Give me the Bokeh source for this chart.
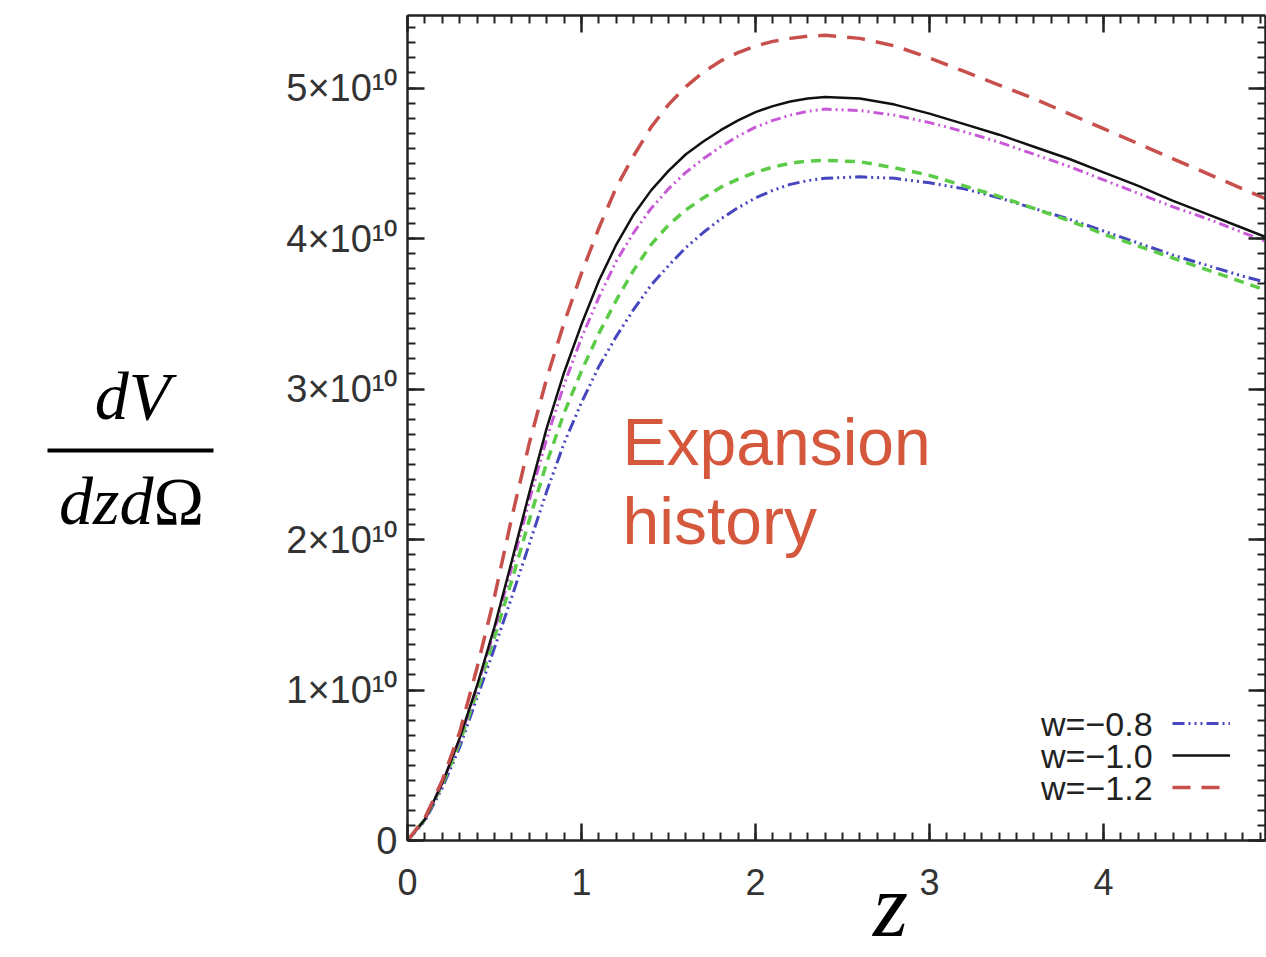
from bokeh.plotting import figure
from bokeh.models import (Range1d, LinearAxis, SingleIntervalTicker, CustomJSTickFormatter,
                          Label, Legend, LegendItem, BoxAnnotation)
from bokeh.layouts import row
from bokeh.embed import file_html
from bokeh.resources import INLINE

# ---------------- data (dV/dz dOmega in units of 1e10) ----------------
z = [0, 0.1, 0.2, 0.3, 0.4, 0.5, 0.6, 0.7, 0.8, 0.9, 1.0, 1.1, 1.2, 1.3, 1.4, 1.5, 1.6, 1.7,
     1.8, 1.9, 2.0, 2.1, 2.2, 2.3, 2.4, 2.6, 2.8, 3.0, 3.2, 3.4, 3.6, 3.8, 4.0, 4.2, 4.4, 4.6, 4.8, 5.0]

w_m12 = [0, 0.15, 0.40, 0.72, 1.15, 1.62, 2.15, 2.64, 3.07, 3.44, 3.77, 4.07, 4.34, 4.55, 4.74, 4.89, 5.01, 5.105,
         5.18, 5.235, 5.28, 5.31, 5.33, 5.345, 5.35, 5.33, 5.28, 5.20, 5.11, 5.02, 4.93, 4.83, 4.73, 4.63, 4.53, 4.43, 4.33, 4.23]
w_m10 = [0, 0.14, 0.38, 0.68, 1.03, 1.42, 1.86, 2.31, 2.74, 3.11, 3.43, 3.72, 3.96, 4.16, 4.32, 4.45, 4.56, 4.645,
         4.72, 4.785, 4.84, 4.88, 4.91, 4.93, 4.94, 4.93, 4.89, 4.83, 4.76, 4.69, 4.61, 4.53, 4.44, 4.35, 4.25, 4.16, 4.07, 3.98]
magenta = [0, 0.14, 0.38, 0.67, 1.02, 1.40, 1.82, 2.26, 2.67, 3.03, 3.34, 3.61, 3.85, 4.04, 4.20, 4.33, 4.44, 4.53,
           4.61, 4.68, 4.74, 4.785, 4.82, 4.845, 4.86, 4.85, 4.82, 4.77, 4.71, 4.64, 4.56, 4.48, 4.39, 4.30, 4.21, 4.13, 4.04, 3.95]
green = [0, 0.14, 0.37, 0.65, 0.99, 1.35, 1.73, 2.13, 2.51, 2.84, 3.12, 3.37, 3.59, 3.79, 3.96, 4.09, 4.19, 4.27,
         4.34, 4.395, 4.44, 4.475, 4.50, 4.515, 4.52, 4.51, 4.47, 4.42, 4.35, 4.28, 4.20, 4.12, 4.03, 3.95, 3.87, 3.79, 3.71, 3.63]
w_m08 = [0, 0.13, 0.35, 0.62, 0.95, 1.28, 1.62, 1.97, 2.32, 2.64, 2.91, 3.15, 3.35, 3.53, 3.69, 3.82, 3.94, 4.04,
         4.13, 4.205, 4.27, 4.32, 4.36, 4.385, 4.40, 4.41, 4.40, 4.37, 4.33, 4.27, 4.20, 4.13, 4.05, 3.97, 3.89, 3.82, 3.75, 3.69]

legend_labels = ["w=\u22120.8", "w=\u22121.0", "w=\u22121.2"]
SANS = "Liberation Sans"
SERIF = "Liberation Serif"

# ---------------- main figure ----------------
p = figure(frame_width=858, frame_height=825,
           x_range=Range1d(0, 4.931), y_range=Range1d(0, 5.482),
           min_border_left=150, min_border_top=15, min_border_bottom=117, min_border_right=1,
           x_axis_location=None, y_axis_location=None, outline_line_color=None,
           toolbar_location=None, output_backend="svg", background_fill_color="white",
           border_fill_color="white")
p.grid.grid_line_color = None

def style_axis(ax, show_labels, size="36px"):
    ax.axis_line_width = 2.5
    ax.axis_line_color = "#222222"
    ax.major_tick_line_width = 2.5
    ax.major_tick_line_color = "#222222"
    ax.minor_tick_line_width = 2
    ax.minor_tick_line_color = "#222222"
    ax.major_tick_in = 17
    ax.major_tick_out = 0
    ax.minor_tick_in = 8
    ax.minor_tick_out = 0
    ax.major_label_text_font = SANS
    ax.major_label_text_font_size = size
    ax.major_label_text_color = "#333333"
    if not show_labels:
        ax.major_label_standoff = 0
        ax.formatter = CustomJSTickFormatter(code="return '';")

xb = LinearAxis(ticker=SingleIntervalTicker(interval=1, num_minor_ticks=10))
style_axis(xb, True)
xb.major_label_standoff = 28
xb.axis_label = "\u2003\u2009z"
xb.axis_label_text_font = SERIF
xb.axis_label_text_font_style = "italic"
xb.axis_label_text_font_size = "90px"
xb.axis_label_text_color = "black"
xb.axis_label_standoff = -42
p.add_layout(xb, "below")

xt = LinearAxis(ticker=SingleIntervalTicker(interval=1, num_minor_ticks=10))
style_axis(xt, False)
p.add_layout(xt, "above")

yl = LinearAxis(ticker=SingleIntervalTicker(interval=1, num_minor_ticks=10),
                formatter=CustomJSTickFormatter(
                    code="return tick == 0 ? '0' : tick.toFixed(0) + '\u00d710\u00b9\u2070';"))
style_axis(yl, True, "38px")
yl.major_label_standoff = 10
p.add_layout(yl, "left")

yr = LinearAxis(ticker=SingleIntervalTicker(interval=1, num_minor_ticks=10))
style_axis(yr, False)
p.add_layout(yr, "right")

# curves
r_blue = p.line(z, w_m08, line_color="#4646c0", line_width=3, line_dash="12 4 2 4 2 4 2 4")
r_green = p.line(z, green, line_color="#5ccc48", line_width=3.5, line_dash="10 7")
r_mag = p.line(z, magenta, line_color="#c85ad8", line_width=3, line_dash="10 4 2 4 2 4")
r_black = p.line(z, w_m10, line_color="#111111", line_width=2.5)
r_red = p.line(z, w_m12, line_color="#c8504c", line_width=3.5, line_dash="18 11")

# legend: glyph samples on the right, texts on the left (drawn as labels)
legend = Legend(items=[LegendItem(label=" ", renderers=[r_blue]),
                       LegendItem(label=" ", renderers=[r_black]),
                       LegendItem(label=" ", renderers=[r_red])],
                location=(765, 37), padding=0, margin=0, spacing=0,
                glyph_width=58, glyph_height=32, label_width=0, label_height=32,
                label_standoff=0, label_text_font_size="1px",
                border_line_color=None, background_fill_alpha=0)
p.add_layout(legend)

for txt, yy in zip(legend_labels, [0.777, 0.564, 0.352]):
    p.add_layout(Label(x=4.282, y=yy, text=txt, text_align="right", text_baseline="middle",
                       text_font=SANS, text_font_size="34px", text_color="#222222"))

# annotation text
p.add_layout(Label(x=1.236, y=2.645, text="Expansion", text_font=SANS,
                   text_font_size="66px", text_color="#d5573c", text_baseline="alphabetic"))
p.add_layout(Label(x=1.236, y=2.126, text="history", text_font=SANS,
                   text_font_size="66px", text_color="#d5573c", text_baseline="alphabetic"))

# ---------------- left panel: y-axis title as a fraction ----------------
lf = figure(width=257, frame_height=825, x_range=Range1d(0, 257), y_range=Range1d(840, 15),
            min_border=0, min_border_top=15, x_axis_location=None, y_axis_location=None,
            outline_line_color=None, toolbar_location=None, output_backend="svg",
            background_fill_color="white", border_fill_color="white")
lf.grid.grid_line_color = None
lf.add_layout(Label(x=132, y=395, text="dV", text_font=SERIF,
                    text_font_style="italic", text_font_size="68px", text_color="black",
                    text_align="center", text_baseline="alphabetic"))
lf.add_layout(BoxAnnotation(left=47, right=213, bottom=452, top=448,
                            fill_color="black", fill_alpha=1, line_color=None))
lf.add_layout(Label(x=153, y=500, text="dzd", text_font=SERIF,
                    text_font_style="italic", text_font_size="68px", text_color="black",
                    text_align="right", text_baseline="alphabetic"))
lf.add_layout(Label(x=153, y=500, text="\u03a9", text_font=SERIF,
                    text_font_size="68px", text_color="black",
                    text_align="left", text_baseline="alphabetic"))

layout = row(lf, p, spacing=0)
open("out.html", "w").write(file_html(layout, INLINE))
